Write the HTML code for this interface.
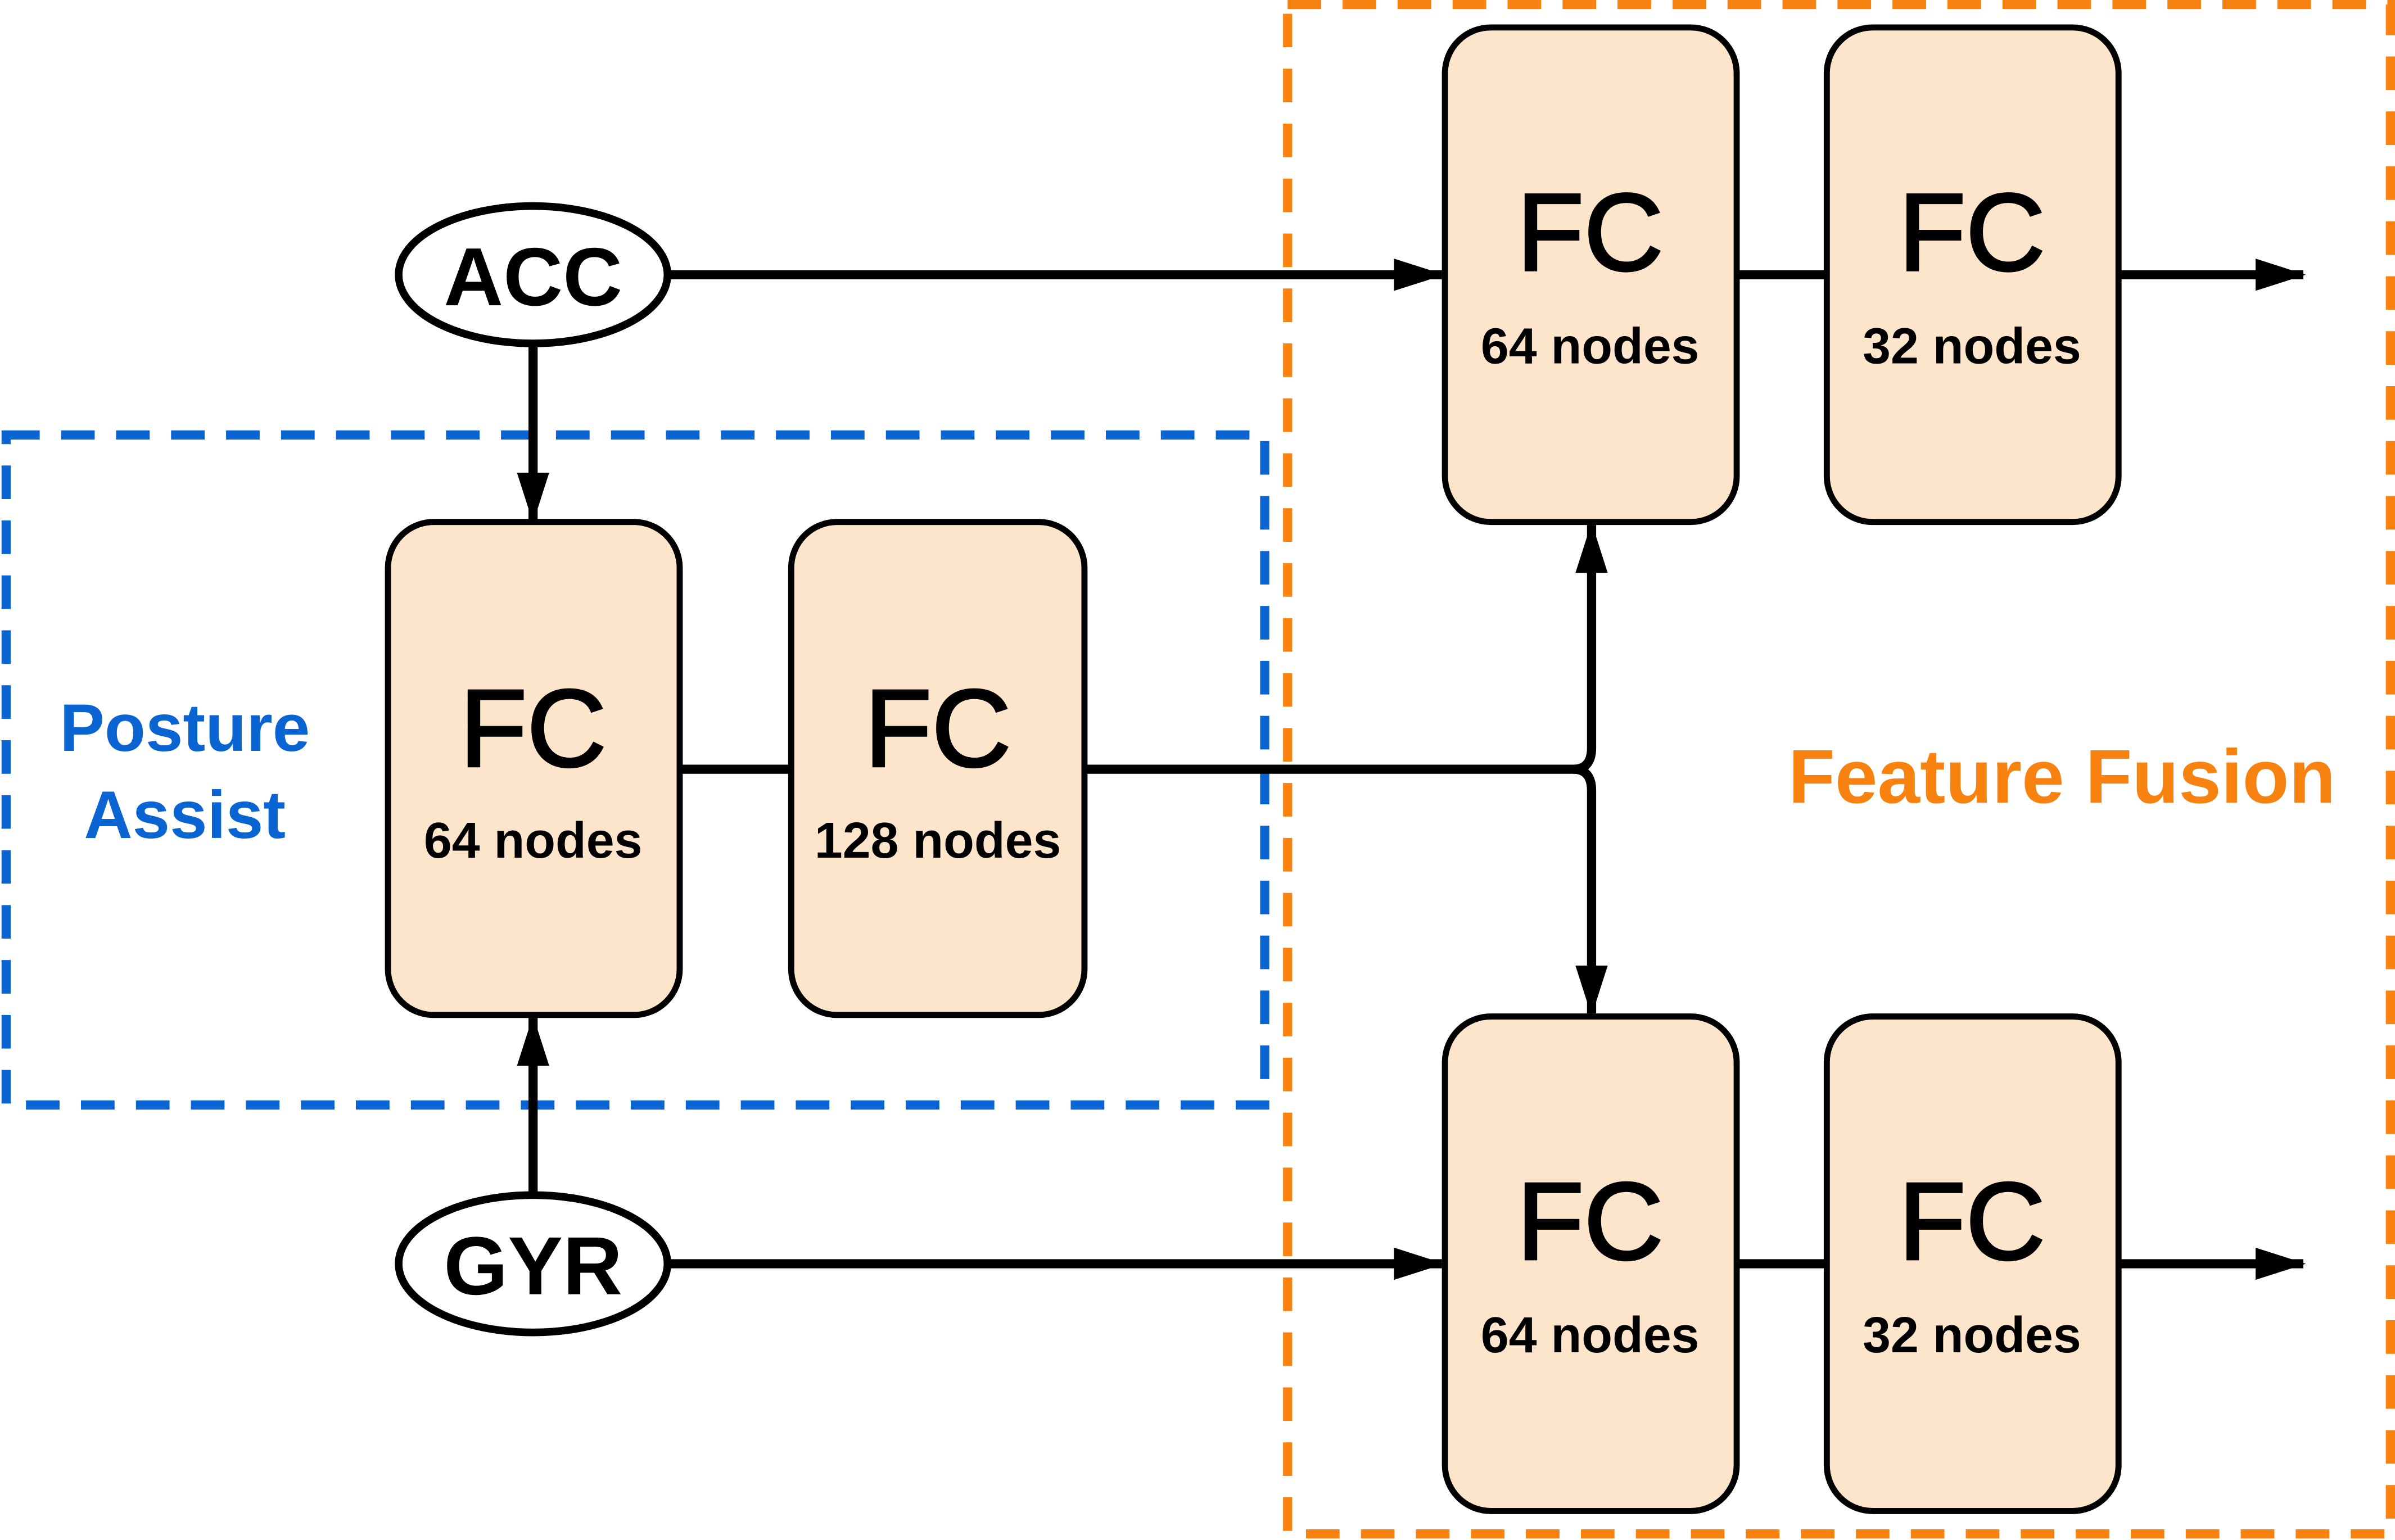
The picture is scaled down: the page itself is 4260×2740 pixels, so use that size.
<!DOCTYPE html>
<html><head><style>html,body{margin:0;padding:0;background:#fff}svg{display:block}</style></head>
<body>
<svg width="4260" height="2740" viewBox="0 0 1568 1009" preserveAspectRatio="none" xmlns="http://www.w3.org/2000/svg">
<defs>
<marker id="ah" viewBox="0 0 10 10" refX="9.5" refY="5" markerWidth="5.5" markerHeight="5.5" markerUnits="strokeWidth" orient="auto"><path d="M0,1.8 L10,5 L0,8.2 Z" fill="#000"/></marker>
</defs>
<rect x="843" y="3" width="722" height="1002" fill="none" stroke="#f7820f" stroke-width="6" stroke-dasharray="22,14"/>
<rect x="4" y="285" width="824" height="439" fill="none" stroke="#0a64d2" stroke-width="6" stroke-dasharray="22,14"/>
<g stroke="#000" stroke-width="6" fill="none">
<line x1="438" y1="180" x2="944" y2="180" marker-end="url(#ah)"/>
<line x1="438" y1="828" x2="944" y2="828" marker-end="url(#ah)"/>
<line x1="1387" y1="180" x2="1508" y2="180" marker-end="url(#ah)"/>
<line x1="1387" y1="828" x2="1508" y2="828" marker-end="url(#ah)"/>
<line x1="349" y1="226" x2="349" y2="341" marker-end="url(#ah)"/>
<line x1="349" y1="782" x2="349" y2="667" marker-end="url(#ah)"/>
<line x1="445" y1="504" x2="518" y2="504"/>
<line x1="1137" y1="180" x2="1196" y2="180"/>
<line x1="1137" y1="828" x2="1196" y2="828"/>
<path d="M710,504 L1030,504 Q1042,504 1042,490 L1042,344" marker-end="url(#ah)"/>
<path d="M1030,504 Q1042,504 1042,518 L1042,664" marker-end="url(#ah)"/>
</g>
<g stroke="#000" stroke-width="4" fill="#fde5cc">
<rect x="254" y="342" width="191" height="323" rx="30"/>
<rect x="518" y="342" width="192" height="323" rx="30"/>
<rect x="946" y="18" width="191" height="324" rx="30"/>
<rect x="1196" y="18" width="191" height="324" rx="30"/>
<rect x="946" y="666" width="191" height="324" rx="30"/>
<rect x="1196" y="666" width="191" height="324" rx="30"/>
</g>
<g stroke="#000" stroke-width="5" fill="#fff">
<ellipse cx="349" cy="180" rx="88" ry="45"/>
<ellipse cx="349" cy="828" rx="88" ry="45"/>
</g>
<g font-family="Liberation Sans, sans-serif" text-anchor="middle" fill="#000">
<g font-size="54" font-weight="bold">
<text x="349" y="200">ACC</text>
<text x="349" y="848">GYR</text>
</g>
<g font-size="72" stroke="#000" stroke-width="1.5">
<text x="349" y="502">FC</text><text x="614" y="502">FC</text>
<text x="1041" y="177">FC</text><text x="1291" y="177">FC</text>
<text x="1041" y="825">FC</text><text x="1291" y="825">FC</text>
</g>
<g font-size="33" font-weight="bold">
<text x="349" y="562">64 nodes</text><text x="614" y="562">128 nodes</text>
<text x="1041" y="238">64 nodes</text><text x="1291" y="238">32 nodes</text>
<text x="1041" y="886">64 nodes</text><text x="1291" y="886">32 nodes</text>
</g>
<g font-size="44" fill="#0a64d2" font-weight="bold">
<text x="121" y="492">Posture</text><text x="121" y="549">Assist</text>
</g>
<text x="1350" y="526" font-size="50" font-weight="bold" fill="#f7820f">Feature Fusion</text>
</g>
</svg>
</body></html>
